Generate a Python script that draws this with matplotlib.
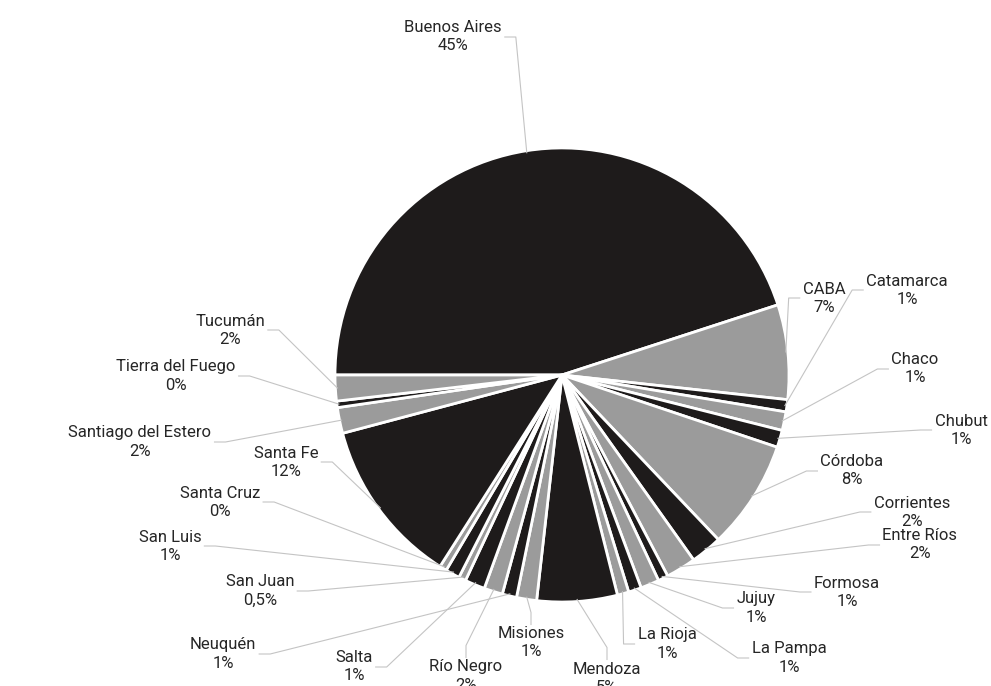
import matplotlib
matplotlib.use("Agg")
import matplotlib.pyplot as plt
import numpy as np

plt.rcParams["font.family"] = ["Roboto", "DejaVu Sans"]

# ---------------- data ----------------
provinces = ["Buenos Aires", "CABA", "Catamarca", "Chaco", "Chubut", "Córdoba",
             "Corrientes", "Entre Ríos", "Formosa", "Jujuy", "La Pampa", "La Rioja",
             "Mendoza", "Misiones", "Neuquén", "Río Negro", "Salta", "San Juan",
             "San Luis", "Santa Cruz", "Santa Fe", "Santiago del Estero",
             "Tierra del Fuego", "Tucumán"]
values = [44.1, 6.6, 0.85, 1.3, 1.2, 7.6,
          2.2, 2.1, 0.7, 1.3, 0.9, 0.8,
          5.6, 1.4, 1.0, 1.3, 1.4, 0.5,
          1.0, 0.5, 11.6, 1.8,
          0.45, 1.8]
pct_labels = ["45%", "7%", "1%", "1%", "1%", "8%",
              "2%", "2%", "1%", "1%", "1%", "1%",
              "5%", "1%", "1%", "2%", "1%", "0,5%",
              "1%", "0%", "12%", "2%",
              "0%", "2%"]

# ---------------- layout (pixel space, y down) ----------------
W, H = 991, 686
CX, CY, R = 562, 375, 227
label_pos = {
    "Buenos Aires": (453, 37, "r"), "CABA": (824, 298, "l"), "Catamarca": (907, 290, "l"),
    "Chaco": (915, 369, "l"), "Chubut": (961, 430, "l"), "Córdoba": (852, 471, "l"),
    "Corrientes": (912, 512, "l"), "Entre Ríos": (920, 545, "l"), "Formosa": (847, 592, "l"),
    "Jujuy": (756, 608, "l"), "La Pampa": (789, 658, "l"), "La Rioja": (667, 644, "l"),
    "Mendoza": (607, 678, "t"), "Misiones": (531, 643, "t"), "Neuquén": (223, 654, "r"),
    "Río Negro": (466, 676, "t"), "Salta": (354, 667, "r"), "San Juan": (260, 591, "r"),
    "San Luis": (170, 546, "r"), "Santa Cruz": (220, 502, "r"), "Santa Fe": (286, 462, "r"),
    "Santiago del Estero": (140, 442, "r"), "Tierra del Fuego": (176, 376, "r"),
    "Tucumán": (230, 330, "r"),
}
BLACK, GRAY = "#1e1b1b", "#9b9b9b"
colors = [BLACK if i % 2 == 0 else GRAY for i in range(len(values))]
explode = [0.053] + [0.012] * (len(values) - 1)

fig = plt.figure(figsize=(W / 100, H / 100), dpi=100)
ax = fig.add_axes([0, 0, 1, 1])
wedges, _ = ax.pie(values, colors=colors, explode=explode, startangle=180,
                   counterclock=True, center=(CX, CY), radius=R,
                   wedgeprops=dict(edgecolor="white", linewidth=2.0))
ax.set_xlim(0, W)
ax.set_ylim(H, 0)
ax.set_aspect("equal")
ax.axis("off")

texts = []
for name, pct in zip(provinces, pct_labels):
    x, y, side = label_pos[name]
    t = ax.text(x, y, f"{name}\n{pct}", ha="center", va="center", fontsize=12,
                color="#262626", linespacing=1.25, zorder=5)
    texts.append(t)

fig.canvas.draw()
renderer = fig.canvas.get_renderer()
inv = ax.transData.inverted()
for w, name, t in zip(wedges, provinces, texts):
    x, y, side = label_pos[name]
    bb = t.get_window_extent(renderer)
    (x0, y0), (x1, y1) = inv.transform([[bb.x0, bb.y0], [bb.x1, bb.y1]])
    top = min(y0, y1)
    mid = np.deg2rad((w.theta1 + w.theta2) / 2)
    wc = w.center
    sx, sy = wc[0] + (w.r - 2) * np.cos(mid), wc[1] + (w.r - 2) * np.sin(mid)
    if side == "l":
        pts = [(sx, sy), (x0 - 14, y), (x0 - 3, y)]
    elif side == "r":
        pts = [(sx, sy), (x1 + 14, y), (x1 + 3, y)]
    else:
        pts = [(sx, sy), (x, top - 14), (x, top - 2)]
    xs, ys = zip(*pts)
    ax.plot(xs, ys, color="#c4c4c4", lw=0.8, zorder=4)

fig.savefig("out.png", dpi=100, facecolor="white")
